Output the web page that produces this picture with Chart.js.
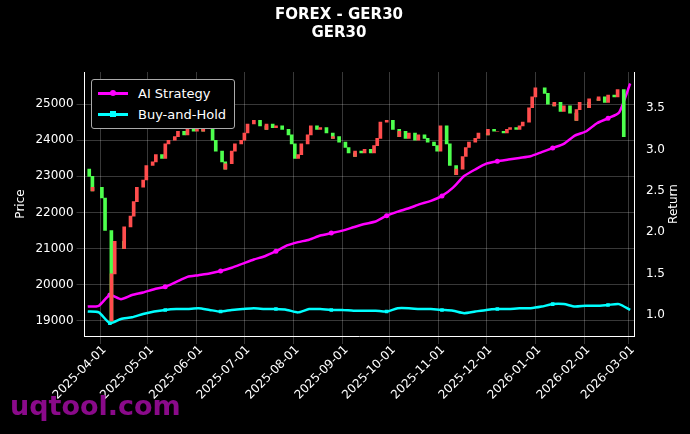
<!DOCTYPE html>
<html>
<head>
<meta charset="utf-8">
<script src="https://cdn.jsdelivr.net/npm/chart.js@4/dist/chart.umd.min.js"></script>
<style>
  body { margin: 0; background: #000; }
  #wrap { position: relative; width: 690px; height: 434px; }
  #legend { position: absolute; left: 91px; top: 79px; border: 1px solid #aaa; border-radius: 3px;
            padding: 3px 8px 3px 6px; font: 13px "DejaVu Sans"; color: #fff; background: #000; }
  #legend div { display: flex; align-items: center; height: 21px; }
  #legend span.l { display: inline-block; width: 30px; height: 3px; margin-right: 10px; position: relative; }
  #legend span.m { position: absolute; left: 12px; top: -2px; width: 6px; height: 6px; }
  #wm { position: absolute; left: 10px; top: 390px; font: bold 27px "DejaVu Sans"; color: #8a0a8a; }
</style>
</head>
<body>
<div id="wrap">
  <canvas id="myChart" width="690" height="434"></canvas>
  <div id="legend">
    <div><span class="l" style="background:#ff00ff"><span class="m" style="background:#ff00ff;border-radius:50%"></span></span>AI Strategy</div>
    <div><span class="l" style="background:#00ffff"><span class="m" style="background:#00ffff"></span></span>Buy-and-Hold</div>
  </div>
  <div id="wm">uqtool.com</div>
</div>
<script>
// candle closes, one every 2 trading days starting 2025-03-24
const closes = [
  23000, 22600, 22700,
  22400, 21500, 19000, 20300, 21200, 21000, 21600, 21900, 22300, 22700, 22900,
  23300, 23400, 23600, 23500, 23900, 24000, 24100, 24250, 24150, 24300, 24250,
  24400, 24250, 24300, 24000, 23700, 23400, 23200, 23350, 23700, 23900, 24000,
  24200, 24450, 24550, 24400, 24300, 24450, 24350, 24400, 24300, 24150, 23900, 23500,
  23600, 23900, 24150, 24400, 24300, 24350, 24200, 24050, 24100, 23950,
  23800, 23650, 23550, 23700, 23650, 23750, 23650, 23850,
  24050, 24500, 24550, 24300, 24100, 24250, 24050, 24200, 24000, 24150, 24050, 23950,
  23850, 23700, 24400, 23900, 23300, 23050, 23200, 23550, 23800, 23950,
  24050, 24200, 24150, 24300, 24250, 24250, 24200, 24300, 24350, 24300, 24400,
  24500, 24900, 25200, 25450, 25300, 25000, 24950, 25050, 24800, 24950, 24750,
  24550, 24850, 25050, 24900, 25150, 25100, 25200, 25050, 25250, 25200,
  25400, 24100
];
const firstOpen = 23200;

// weekly returns starting 2025-03-24
const aiReturn = [1.10,1.11,1.24,1.19,1.24,1.27,1.31,1.34,1.40,1.46,1.48,1.50,1.53,1.57,1.62,1.67,1.71,1.77,1.84,1.88,
  1.91,1.96,1.99,2.02,2.06,2.10,2.13,2.20,2.25,2.29,2.34,2.38,2.44,2.54,2.68,2.76,2.83,2.86,2.88,2.90,
  2.92,2.97,3.02,3.07,3.17,3.22,3.32,3.38,3.45,3.80];
const bhReturn = [1.04,1.03,0.90,0.95,0.97,1.01,1.04,1.06,1.07,1.07,1.08,1.06,1.04,1.06,1.07,1.08,1.07,1.07,1.06,1.03,
  1.07,1.07,1.06,1.06,1.05,1.05,1.05,1.04,1.08,1.08,1.07,1.07,1.06,1.05,1.02,1.04,1.06,1.07,1.07,1.08,
  1.08,1.10,1.13,1.13,1.10,1.11,1.11,1.12,1.13,1.06];

const monthTicks = ['2025-04-01','2025-05-01','2025-06-01','2025-07-01','2025-08-01','2025-09-01','2025-10-01',
  '2025-11-01','2025-12-01','2026-01-01','2026-02-01','2026-03-01'];
const priceTicks = [19000, 20000, 21000, 22000, 23000, 24000, 25000];
const returnTicks = [1.0, 1.5, 2.0, 2.5, 3.0, 3.5];

const origin = Date.UTC(2025, 2, 24);
const dayOf = s => (Date.parse(s + 'T00:00:00Z') - origin) / 86400000;

// trading-day positions
const candleDays = [];
let d = 0, bd = 0;
while (candleDays.length < closes.length) {
  const wd = new Date(origin + d * 86400000).getUTCDay();
  if (wd !== 0 && wd !== 6) { if (bd % 2 === 0) candleDays.push(d); bd++; }
  d++;
}
const up = [], down = [];
closes.forEach((c, i) => {
  const o = i === 0 ? firstOpen : closes[i - 1];
  (c >= o ? up : down).push({ x: candleDays[i], y: [o, c] });
});
const weekly = (arr) => arr.map((v, i) => ({ x: i * 7, y: v }));
const markers = (arr) => arr.map((v, i) => (i % 5 === 2 ? 2.5 : 0));

// rotated date labels and the right-hand axis title
const extraText = {
  id: 'extraText',
  afterDraw(chart) {
    const { ctx, scales: { x, y1 } } = chart;
    ctx.save();
    ctx.fillStyle = '#fff';
    ctx.font = '12px "DejaVu Sans"';
    ctx.textAlign = 'right';
    ctx.textBaseline = 'middle';
    monthTicks.forEach(s => {
      ctx.save();
      ctx.translate(x.getPixelForValue(dayOf(s)) + 4, x.top + 12);
      ctx.rotate(-Math.PI / 4);
      ctx.fillText(s, 0, 0);
      ctx.restore();
    });
    ctx.translate(674, (y1.top + y1.bottom) / 2);
    ctx.rotate(-Math.PI / 2);
    ctx.textAlign = 'center';
    ctx.fillText('Return', 0, 0);
    ctx.restore();
  }
};

const gridStyle = { color: 'rgba(255,255,255,0.22)', borderDash: [2, 2] };
new Chart(document.getElementById('myChart'), {
  data: {
    datasets: [
      { type: 'bar', data: up, backgroundColor: '#ff4d4d', barThickness: 3, yAxisID: 'y' },
      { type: 'bar', data: down, backgroundColor: '#4dff4d', barThickness: 3, yAxisID: 'y' },
      { type: 'line', label: 'AI Strategy', data: weekly(aiReturn), borderColor: '#ff00ff', backgroundColor: '#ff00ff',
        borderWidth: 2.5, pointRadius: markers(aiReturn), pointBorderWidth: 0, yAxisID: 'y1', tension: 0.2 },
      { type: 'line', label: 'Buy-and-Hold', data: weekly(bhReturn), borderColor: '#00ffff', backgroundColor: '#00ffff',
        borderWidth: 2.5, pointRadius: markers(bhReturn), pointBorderWidth: 0, pointStyle: 'rect', yAxisID: 'y1', tension: 0.2 }
    ]
  },
  plugins: [extraText],
  options: {
    responsive: false, animation: false,
    layout: { padding: { left: 10, right: 22, bottom: 90 } },
    plugins: {
      legend: { display: false }, tooltip: { enabled: false },
      title: { display: true, text: ['FOREX - GER30', 'GER30'], color: '#fff',
               font: { family: 'DejaVu Sans', size: 15, weight: 'bold' }, padding: { top: 6, bottom: 30 } }
    },
    scales: {
      x: { type: 'linear', offset: false, min: -2, max: dayOf('2026-03-05'),
           afterBuildTicks: ax => { ax.ticks = monthTicks.map(s => ({ value: dayOf(s) })); },
           ticks: { display: false },
           grid: { ...gridStyle, offset: false }, border: { color: '#fff' } },
      y: { position: 'left', min: 18580, max: 25890,
           afterBuildTicks: ax => { ax.ticks = priceTicks.map(v => ({ value: v })); },
           title: { display: true, text: 'Price', color: '#fff', font: { family: 'DejaVu Sans', size: 12 } },
           ticks: { color: '#fff', font: { family: 'DejaVu Sans', size: 12 }, callback: v => String(v) },
           grid: gridStyle, border: { color: '#fff' } },
      y1: { position: 'right', min: 0.744, max: 3.94,
           afterBuildTicks: ax => { ax.ticks = returnTicks.map(v => ({ value: v })); },
           ticks: { color: '#fff', font: { family: 'DejaVu Sans', size: 12 }, callback: v => v.toFixed(1) },
           grid: { display: false }, border: { color: '#fff' } }
    }
  }
});
</script>
</body>
</html>
